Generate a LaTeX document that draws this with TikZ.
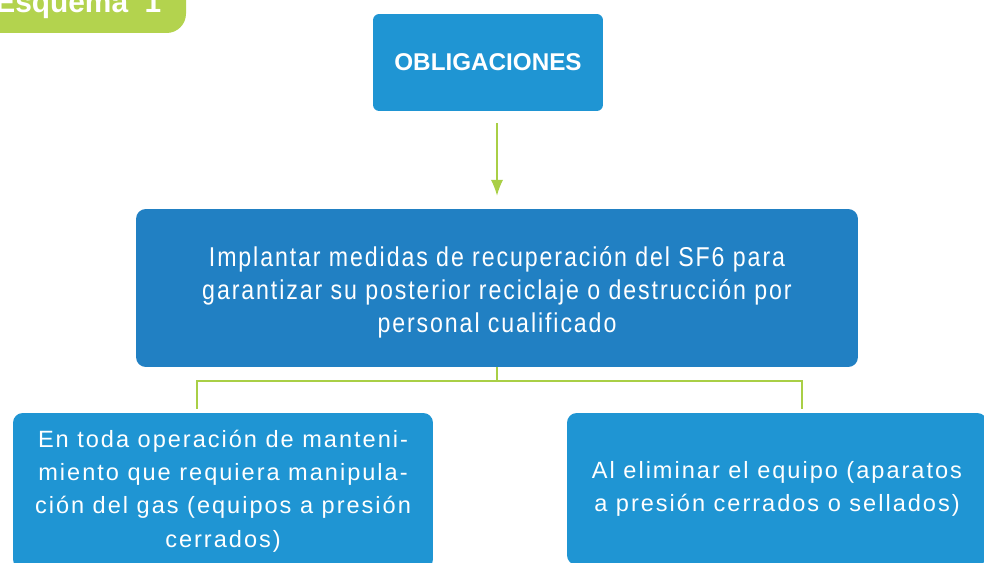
\documentclass[tikz,border=0pt]{standalone}
\usepackage{fontspec}
\setmainfont{Liberation Sans}
\newfontfamily\narrowfont{Liberation Sans}[FakeStretch=0.85,LetterSpace=7]
\newfontfamily\spacedfont{Liberation Sans}[LetterSpace=8.5]
\usetikzlibrary{arrows.meta,positioning,calc}
\definecolor{boxblue}{HTML}{1F95D3}
\definecolor{darkblue}{HTML}{2180C3}
\definecolor{leafgreen}{HTML}{A9CF46}
\definecolor{tabgreen}{HTML}{B3D34E}
\tikzset{>={Latex[length=9pt,width=7pt]}}
\tikzset{
  topbox/.style={fill=boxblue, text=white, rounded corners=3.5pt, minimum width=4.6cm, minimum height=1.94cm, font=\bfseries\fontsize{13.8}{16}\selectfont},
  midbox/.style={fill=darkblue, text=white, rounded corners=5.5pt, minimum width=14.44cm, minimum height=3.16cm, align=center, font=\narrowfont\fontsize{15.5}{18.7}\selectfont},
  leafbox/.style={fill=boxblue, text=white, rounded corners=5.5pt, minimum width=8.4cm, align=center, font=\spacedfont\fontsize{13.4}{19}\selectfont}
}

\begin{document}
\begin{tikzpicture}[x=0.02cm,y=-0.02cm]
    \useasboundingbox (0,0) rectangle (984,563);
    \clip (0,0) rectangle (984,563);

    % tab in the corner
    \fill[tabgreen, rounded corners=11pt] (-60,-60) rectangle (186,33);
    \node [anchor=base west, text=white, inner sep=0, font=\bfseries\fontsize{17}{19}\selectfont] (tab) at (-5,13) {Esquema\hspace{0.55em}1};

    \node [topbox] (oblig) at (488,62.5) {OBLIGACIONES};
    \node [midbox] (medidas) at (497,288) {\rule{0pt}{16.5pt}Implantar medidas de recuperación del SF6 para\\garantizar su posterior reciclaje o destrucción por\\personal cualificado};
    \node [leafbox, minimum height=3.12cm] (mant) at (223,491) {En toda operación de manteni-\\miento que requiera manipula-\\ción del gas (equipos a presión\\cerrados)};
    \node [leafbox, minimum height=3.04cm] (elim) at (777,489) {Al eliminar el equipo (aparatos\\a presión cerrados o sellados)};

    \coordinate (fork) at (497,381);
    \coordinate (mantin) at (197,409);
    \coordinate (elimin) at (802,409);

    \begin{scope}[color=leafgreen, line width=0.75pt]
    \draw[->, shorten <=0.24cm, shorten >=0.26cm] (oblig.south -| medidas.north) to (medidas.north);
    \draw (medidas.south) to (fork);
    \draw (mantin) |- (fork) -| (elimin);
    \end{scope}

\end{tikzpicture}
\end{document}
